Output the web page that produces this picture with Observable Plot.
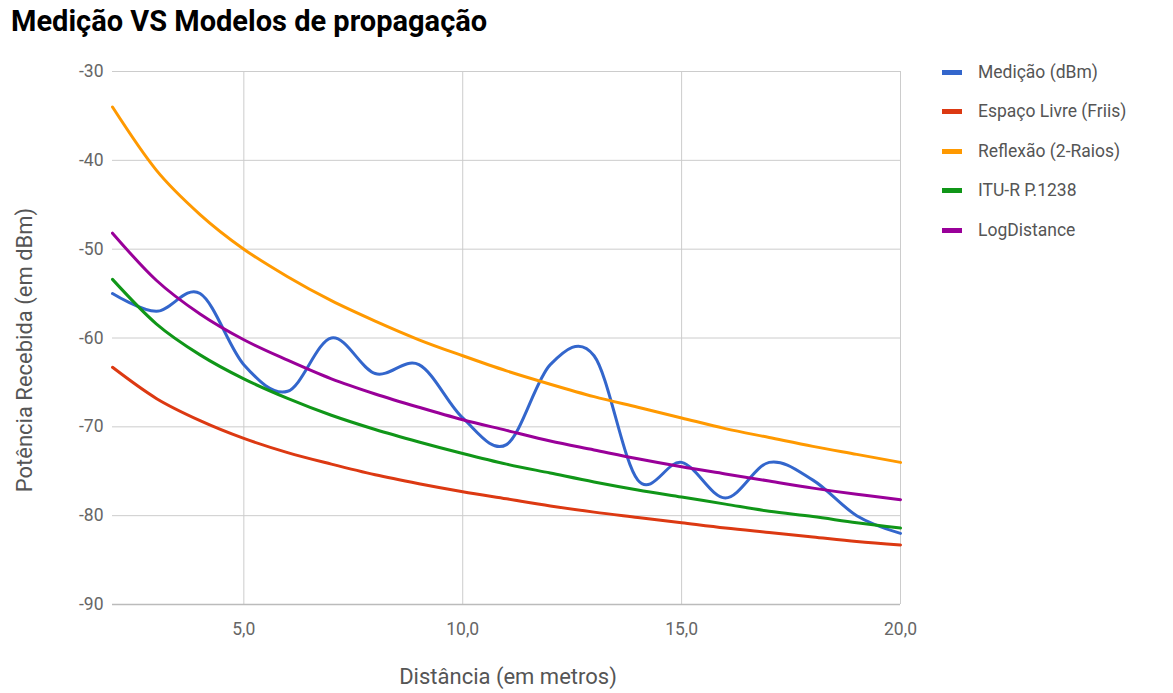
<!DOCTYPE html>
<html><head><meta charset="utf-8">
<script src="https://cdn.jsdelivr.net/npm/d3@7"></script>
<script src="https://cdn.jsdelivr.net/npm/@observablehq/plot@0.6"></script>
<style>
body{margin:0;background:#fff;font-family:Roboto,sans-serif;}
#wrap{position:relative;width:1173px;height:693px;}
#title{position:absolute;left:11px;top:7px;font-size:29px;font-weight:bold;color:#000;line-height:29px;white-space:nowrap;}
.row{position:absolute;left:942px;height:24px;display:flex;align-items:center;white-space:nowrap;font-size:17.5px;color:#555;}
.sw{width:20px;height:5px;margin-right:16px;}
#wrap svg{position:absolute;left:0;top:0;}
</style></head>
<body><div id="wrap"></div>
<script>
const distancia = [2,3,4,5,6,7,8,9,10,11,12,13,14,15,16,17,18,19,20];
const medicao   = [-55,-57,-55,-63,-66,-60,-64,-63,-69,-72,-63,-62,-76,-74,-78,-74,-76,-80,-82];
const friis     = [-63.3,-66.8,-69.3,-71.3,-72.9,-74.2,-75.4,-76.4,-77.3,-78.1,-78.9,-79.6,-80.2,-80.8,-81.4,-81.9,-82.4,-82.9,-83.3];
const doisRaios = [-34.0,-41.1,-46.1,-50.0,-53.1,-55.8,-58.1,-60.2,-62.0,-63.7,-65.2,-66.6,-67.8,-69.0,-70.2,-71.2,-72.2,-73.1,-74.0];
const itu       = [-53.4,-58.4,-61.9,-64.6,-66.8,-68.7,-70.3,-71.7,-73.0,-74.2,-75.2,-76.2,-77.1,-77.9,-78.7,-79.5,-80.1,-80.8,-81.4];
const logDist   = [-48.2,-53.5,-57.3,-60.2,-62.5,-64.6,-66.3,-67.8,-69.2,-70.4,-71.6,-72.6,-73.6,-74.5,-75.3,-76.1,-76.9,-77.6,-78.2];
const series = ["Medição (dBm)","Espaço Livre (Friis)","Reflexão (2-Raios)","ITU-R P.1238","LogDistance"];
const cores  = ["#3366cc","#dc3912","#ff9900","#109618","#990099"];
const xTicks = [5,10,15,20];
const yTicks = [-90,-80,-70,-60,-50,-40,-30];
const titulo = "Medição VS Modelos de propagação";
const rotuloX = "Distância (em metros)";
const rotuloY = "Potência Recebida (em dBm)";

const valores = [medicao, friis, doisRaios, itu, logDist];
const data = [];
series.forEach((s,i)=>distancia.forEach((d,j)=>data.push({serie:s, d, v:valores[i][j]})));

const chart = Plot.plot({
  width:1173, height:693,
  marginLeft:112, marginRight:273, marginTop:71, marginBottom:89,
  style:{fontFamily:"Roboto, sans-serif", fontSize:"17.5px", color:"#666", background:"transparent"},
  color:{domain:series, range:cores},
  x:{domain:[2,20]},
  y:{domain:[-90,-30]},
  marks:[
    Plot.gridX(xTicks,{stroke:"#ccc", strokeOpacity:1}),
    Plot.gridY(yTicks.filter(v=>v>-90),{stroke:"#ccc", strokeOpacity:1}),
    Plot.ruleY([-90],{stroke:"#bbb", strokeWidth:1.5}),
    Plot.axisX(xTicks,{tickSize:0, tickPadding:18, tickFormat:d=>d.toFixed(1).replace(".",","), label:null}),
    Plot.axisY(yTicks,{tickSize:0, tickPadding:9, tickFormat:d=>String(d), label:null}),
    Plot.line(data,{x:"d", y:"v", z:"serie", stroke:"serie", strokeWidth:3, curve:"cardinal", tension:0})
  ]
});
const wrap = document.getElementById("wrap");
wrap.appendChild(chart);
const svg = d3.select(chart);
svg.append("text").attr("x",508).attr("y",684).attr("text-anchor","middle")
  .attr("font-size",22).attr("fill","#555").attr("font-family","Roboto, sans-serif").text(rotuloX);
svg.append("text").attr("transform","translate(32,350) rotate(-90)").attr("text-anchor","middle")
  .attr("font-size",22).attr("fill","#555").attr("font-family","Roboto, sans-serif").text(rotuloY);
const t = document.createElement("div"); t.id="title"; t.textContent=titulo; wrap.appendChild(t);
const centros = [72,111,151,190,230];
series.forEach((s,i)=>{
  const r=document.createElement("div"); r.className="row"; r.style.top=(centros[i]-12)+"px";
  r.innerHTML=`<div class="sw" style="background:${cores[i]}"></div><span>${s}</span>`;
  wrap.appendChild(r);
});
</script>
</body></html>
